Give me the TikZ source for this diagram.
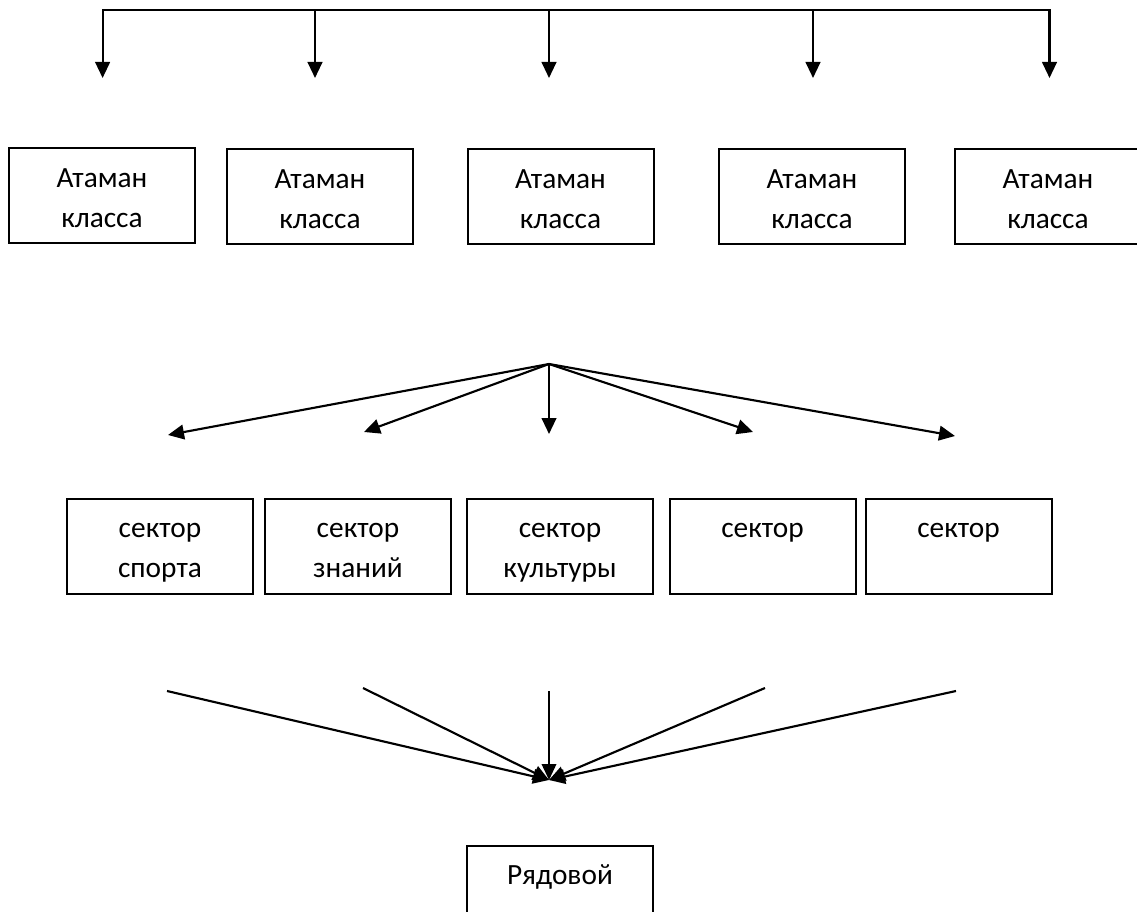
\documentclass[tikz,border=0pt]{standalone}
\usepackage{fontspec}
\setmainfont{Carlito}
\usetikzlibrary{arrows.meta}
\newcommand\tstrut{\rule[-9.15pt]{0pt}{35.7pt}}
\begin{document}
\begin{tikzpicture}[x=0.75pt,y=-0.75pt,
  box/.style={draw,line width=1.5pt,minimum width=139.5pt,minimum height=71.25pt,inner sep=0pt,align=center,font=\fontsize{22}{30.5}\selectfont},
  conn/.style={line width=1.6pt},
  arr/.style={conn,-{Triangle[length=12pt,width=11pt]}},
  arr2/.style={conn,line join=miter,{Triangle[length=12pt,width=11pt]}-{Triangle[length=12pt,width=11pt]}}]
\useasboundingbox (0,0) rectangle (1137,912);
% top row boxes
\node[box] (a1) at (102,196) {\tstrut Атаман\\\strut класса};
\node[box] (a2) at (320,197) {\tstrut Атаман\\\strut класса};
\node[box] (a3) at (560.5,197) {\tstrut Атаман\\\strut класса};
\node[box] (a4) at (812,197) {\tstrut Атаман\\\strut класса};
\node[box] (a5) at (1048,197) {\tstrut Атаман\\\strut класса};
% sector boxes
\node[box] (s1b) at (160,546) {\tstrut сектор\\\strut спорта};
\node[box] (s2b) at (358,546) {\tstrut сектор\\\strut знаний};
\node[box] (s3b) at (560,546) {\tstrut сектор\\\strut культуры};
\node[box] (s4b) at (762.5,546) {\tstrut сектор\\\strut};
\node[box] (s5b) at (958.5,546) {\tstrut сектор\\\strut};
% bottom box
\node[box] (r) at (560,893.5) {\tstrut Рядовой\\\strut};
% top bar
\coordinate (b1) at (102.6,10);
\coordinate (b2) at (315,10);
\coordinate (b3) at (549,10);
\coordinate (b4) at (813,10);
\coordinate (b5) at (1049.5,10);
\coordinate (t1) at (102.6,78);
\coordinate (t2) at (315,78);
\coordinate (t3) at (549,78);
\coordinate (t4) at (813,78);
\coordinate (t5) at (1049.5,78);
\draw[arr2] (t1) -- (b1) -- (b5) -- (t5);
\foreach \i in {2,3,4} {\draw[arr] (b\i) -- (t\i);}
% middle fan
\coordinate (apex) at (549,364);
\coordinate (m1) at (168,435);
\coordinate (m2) at (364,432);
\coordinate (m3) at (549,434);
\coordinate (m4) at (753,432);
\coordinate (m5) at (955,436);
\foreach \i in {1,...,5} {\draw[arr] (apex) -- (m\i);}
% bottom fan
\coordinate (conv) at (549,780);
\coordinate (f1) at (167,691);
\coordinate (f2) at (363,688);
\coordinate (f3) at (549,691);
\coordinate (f4) at (765,688);
\coordinate (f5) at (956,691);
\draw[arr] (f1) -- (conv);
\draw[arr] (f2) -- (conv);
\draw[arr,line width=1.1pt] (f3) -- (conv);
\draw[arr] (f4) -- (conv);
\draw[arr] (f5) -- (conv);
\end{tikzpicture}
\end{document}
